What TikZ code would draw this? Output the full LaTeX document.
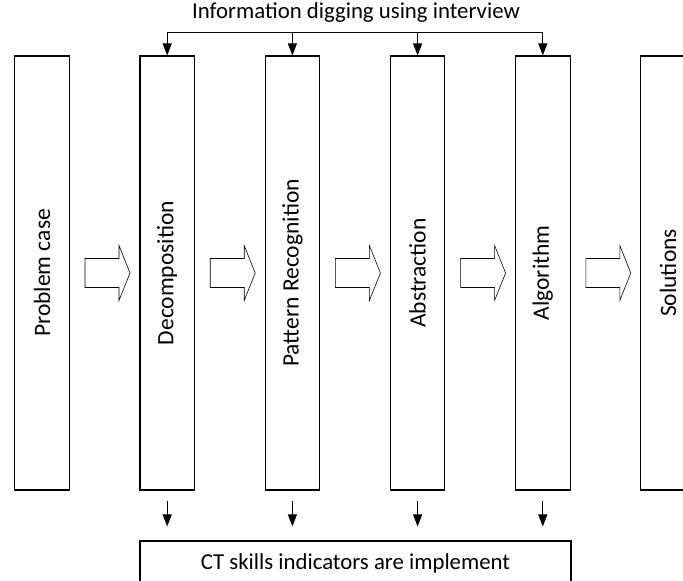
\documentclass[tikz,border=0pt]{standalone}
\usepackage{fontspec}
\setmainfont{Carlito}
\usepackage{tikz}
\usetikzlibrary{arrows.meta,positioning,calc}

\begin{document}
\begin{tikzpicture}[x=1pt,y=1pt,
    stage/.style={draw=black,line width=1.1pt,rotate=90,inner sep=0pt,
        minimum width=434pt,minimum height=54.5pt,font=\fontsize{23.5}{28}\selectfont},
    hollow/.style={draw=black,line width=0.6pt,fill=white},
    feed/.style={line width=1pt,-{Triangle[length=12pt,width=9pt]}},
    label/.style={font=\fontsize{22.8}{27}\selectfont}]
    \useasboundingbox (0,0) rectangle (683,581);

    % Stages of the CT process
    \node[stage] (prob) at (42,308) {Problem case};
    \node[stage] (dec)  at (167.2,308) {Decomposition};
    \node[stage] (pat)  at (292.4,308) {Pattern Recognition};
    \node[stage] (abs)  at (417.6,308) {Abstraction};
    \node[stage] (alg)  at (542.8,308) {Algorithm};
    \node[stage] (sol)  at (668,308) {Solutions};

    % Hollow block arrows between the stages
    \foreach \i in {0,...,4} {
        \coordinate (blk\i) at (85+125.2*\i,308);
        \draw[hollow] (blk\i) ++(0,14.5) -- ++(34,0) -- ++(0,13) -- ++(11,-27.5)
            -- ++(-11,-27.5) -- ++(0,13) -- ++(-34,0) -- cycle;
    }

    % Interview feeding the four middle stages
    \node[label] (info) at (356,568) {Information digging using interview};
    \coordinate (bar) at (0,548);
    \draw[line width=1pt] (dec.east |- bar) -- (alg.east |- bar);
    \foreach \n in {dec,pat,abs,alg}
        \draw[feed] (\n.east |- bar) -- (\n.east);

    % Indicators below
    \node[label,draw=black,line width=1.1pt,minimum width=431pt,minimum height=44pt,inner sep=0pt]
        (ct) at (355.5,18) {CT skills indicators are implement};
    \foreach \n in {dec,pat,abs,alg}
        \draw[feed,shorten <=10pt,shorten >=14pt] (\n.west) -- (\n.west |- ct.north);
\end{tikzpicture}
\end{document}
